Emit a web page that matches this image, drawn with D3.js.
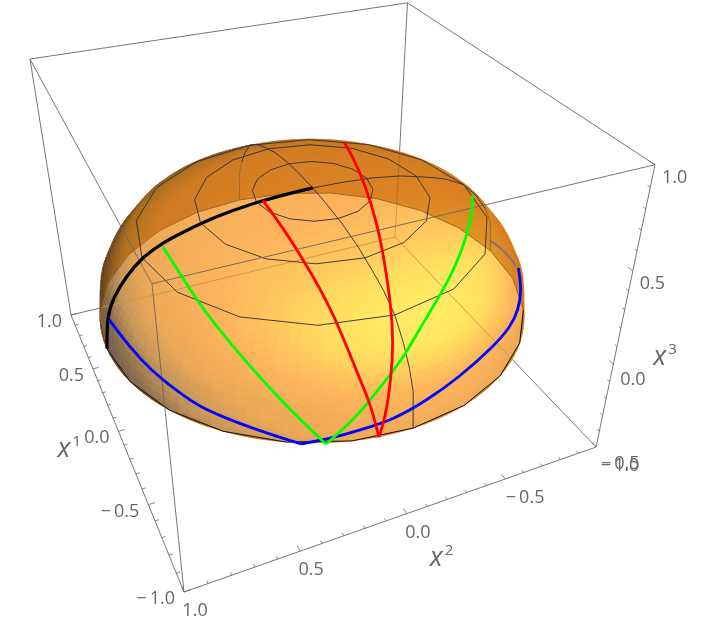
<!DOCTYPE html>
<html>
<head>
<meta charset="utf-8">
<style>
  html, body { margin: 0; background: #fff; }
  text { font-family: "Open Sans", sans-serif; fill: #666; }
</style>
<script src="https://cdn.jsdelivr.net/npm/d3@7"></script>
</head>
<body>
<svg id="chart" width="720" height="621"></svg>
<script>
// dome profile: height x3 at radius sqrt(x1^2 + x2^2)
const profileRadius = [0, 0.25, 0.5, 0.707, 0.83, 0.93, 0.98, 1];
const profileHeight = [0.6, 0.593, 0.555, 0.487, 0.42, 0.29, 0.18, 0];

// mesh lines on the dome
const ringRadii = [0.27, 0.53, 0.8];
const meridianAngles = [0, 180, 270];
const meridianRadii = [0, 0.15, 0.3, 0.45, 0.6, 0.7, 0.8, 0.88, 0.94, 0.98, 1];

// coloured curves, [x1, x2, x3]
const blueLeft = [
  [-0.03, 0.98, 0.18], [-0.25, 0.95, 0.18], [-0.39, 0.90, 0.14], [-0.53, 0.83, 0.11],
  [-0.62, 0.77, 0.08], [-0.73, 0.67, 0.06], [-0.82, 0.56, 0.03], [-0.90, 0.45, 0.00]
];
const blueRight = [
  [-0.90, 0.45, 0.00], [-0.94, 0.33, 0.02], [-0.97, 0.22, 0.05], [-0.99, 0.09, 0.07],
  [-0.98, -0.07, 0.11], [-0.95, -0.23, 0.15], [-0.87, -0.44, 0.18], [-0.79, -0.58, 0.19],
  [-0.70, -0.68, 0.19], [-0.59, -0.77, 0.20], [-0.48, -0.82, 0.24]
];
const blueHidden = [[-0.47, -0.65, 0.43], [-0.49, -0.73, 0.36], [-0.50, -0.79, 0.27]];
const greenLeft = [
  [-0.02, 0.71, 0.48], [-0.26, 0.70, 0.47], [-0.45, 0.68, 0.43], [-0.63, 0.62, 0.35],
  [-0.78, 0.54, 0.24], [-0.88, 0.45, 0.12], [-0.94, 0.36, 0.00]
];
const greenRight = [
  [-0.94, 0.36, 0.00], [-0.94, 0.33, 0.02], [-0.96, 0.22, 0.13], [-0.93, 0.07, 0.27],
  [-0.91, 0.01, 0.31], [-0.83, -0.13, 0.41], [-0.69, -0.32, 0.46], [-0.48, -0.52, 0.48],
  [-0.26, -0.69, 0.47], [-0.11, -0.78, 0.44]
];
const redLeft = [
  [0.00, 0.24, 0.59], [-0.22, 0.24, 0.58], [-0.43, 0.24, 0.55], [-0.71, 0.23, 0.47],
  [-0.92, 0.21, 0.27], [-0.96, 0.18, 0.17], [-0.99, 0.15, 0.00]
];
const redRight = [
  [-0.99, 0.15, 0.00], [-0.98, 0.12, 0.08], [-0.94, 0.08, 0.25], [-0.87, 0.04, 0.36],
  [-0.77, 0.00, 0.45], [-0.54, -0.08, 0.54], [-0.34, -0.15, 0.57], [-0.04, -0.24, 0.59],
  [0.25, -0.32, 0.57], [0.51, -0.40, 0.51]
];

// axes
const x1Major = [1, 0.5, 0, -0.5, -1];
const x2Major = [1, 0.5, 0, -0.5, -1];
const x3Major = [1, 0.5, 0, -0.5];
const minorStep = 0.1;

const svg = d3.select("#chart");

const height = d3.scaleLinear().domain(profileRadius).range(profileHeight).clamp(true);
const a = d3.scaleLinear().domain([1, -1]).range([0, 1]);
const b = d3.scaleLinear().domain([1, -1]).range([0, 1]);
const c = d3.scaleLinear().domain([-0.5, 1]).range([0, 1]);

// camera fitted to the eight box corners
function project(p) {
  const u = a(p[0]), v = b(p[1]), h = c(p[2]);
  const w = 1 - 0.2762 * u + 0.1283 * v - 0.146 * h;
  return [
    (71 + 62.2 * u + 374.7 * v - 45.4 * h) / w,
    (315 + 113.5 * u - 47.6 * v - 264.6 * h) / w
  ];
}

const domePoint = (r, deg) => {
  const t = deg * Math.PI / 180;
  return [r * Math.cos(t), r * Math.sin(t), height(r)];
};
const line = d3.line();
const smooth = d3.line().curve(d3.curveBasis);
const path3d = pts => line(pts.map(project));

// shading only: smooth normal of the dome, colour ramp against a highlight direction
const shade = d3.scaleLinear()
  .domain([-0.2, 0.1, 0.2, 0.4, 0.6, 0.82, 0.9, 0.96, 1])
  .range(["#6e5a48", "#7d6450", "#8d6f4e", "#c4965a", "#eca858", "#fdb45c", "#ffc85e", "#ffe060", "#ffec66"]);
const light = [-0.62, -0.1, 0.778];
function domeColor(r, deg) {
  const t = deg * Math.PI / 180;
  const z = Math.pow(Math.max(1 - Math.pow(r, 2.5), 1e-4), 0.4);
  const nr = Math.pow(r, 1.5), nz = Math.pow(z, 1.5) / 0.6;
  const len = Math.hypot(nr, nz);
  const dot = (nr * Math.cos(t) * light[0] + nr * Math.sin(t) * light[1] + nz * light[2]) / len;
  return shade(dot);
}

// surface grid
const radii = d3.range(0, 41).map(i => 1 - Math.pow(1 - i / 40, 2));
const thetas = d3.range(0, 360, 3);
const hull = d3.polygonHull(radii.flatMap(r => thetas.map(t => project(domePoint(r, t)))));
const hullPath = d3.line().curve(d3.curveLinearClosed)(hull);
const rimPolygon = d3.range(0, 360, 15).map(t => project(domePoint(1, t)));
const rimPath = d3.line().curve(d3.curveLinearClosed)(rimPolygon);

svg.append("clipPath").attr("id", "dome-clip").append("path").attr("d", hullPath);

const boxLine = (g, from, to) => g.append("path")
  .attr("d", path3d([from, to]))
  .attr("fill", "none")
  .attr("stroke", "#666")
  .attr("stroke-width", 0.9);

// back edges of the box
const backEdges = [
  [[1, -1, -0.5], [1, 1, -0.5]],
  [[1, -1, -0.5], [-1, -1, -0.5]],
  [[1, -1, -0.5], [1, -1, 1]]
];
const back = svg.append("g");
backEdges.forEach(e => boxLine(back, e[0], e[1]));

// dome, front sheet
const surface = svg.append("g");
surface.append("path").attr("d", hullPath).attr("fill", "#fdb25c");
d3.range(radii.length - 1).forEach(i => {
  thetas.forEach(t => {
    const t2 = t + 3;
    const q = [
      domePoint(radii[i], t), domePoint(radii[i + 1], t),
      domePoint(radii[i + 1], t2), domePoint(radii[i], t2)
    ].map(project);
    if (d3.polygonArea(q) <= 0) return;
    const col = domeColor((radii[i] + radii[i + 1]) / 2, t + 1.5);
    surface.append("path")
      .attr("d", d3.line().curve(d3.curveLinearClosed)(q))
      .attr("fill", col)
      .attr("stroke", col)
      .attr("stroke-width", 0.7);
  });
});

// back edges showing through the dome
const through = svg.append("g").attr("clip-path", "url(#dome-clip)");
backEdges.forEach(e => boxLine(through, e[0], e[1]).attr("stroke", "#c49a45"));

// far sheet of the dome doubles up above the back of the rim
svg.append("path")
  .attr("d", hullPath + rimPath)
  .attr("fill-rule", "evenodd")
  .attr("fill", "#deba60")
  .style("mix-blend-mode", "multiply");

// rim: far part seen through, near part as outline
const rimArc = (from, to) => d3.range(from, to + 1, 15).map(t => domePoint(1, t));
svg.append("path").attr("d", path3d(rimArc(240, 450)))
  .attr("fill", "none").attr("stroke", "#a0661f").attr("stroke-width", 1);
svg.append("path").attr("d", path3d(rimArc(90, 240)))
  .attr("fill", "none").attr("stroke", "#111").attr("stroke-width", 1);

// mesh, the far ends of the back meridians are seen through the dome
const mesh = svg.append("g").attr("fill", "none").attr("stroke", "#2b2b3b").attr("stroke-width", 0.9);
ringRadii.forEach(r => {
  mesh.append("path").attr("d", path3d(d3.range(0, 361, 22.5).map(t => domePoint(r, t))));
});
meridianAngles.forEach(t => {
  const farEnd = t !== 180;
  const near = meridianRadii.filter(r => !farEnd || r <= 0.94);
  mesh.append("path").attr("d", path3d(near.map(r => domePoint(r, t))));
  if (farEnd) {
    mesh.append("path")
      .attr("d", path3d(meridianRadii.filter(r => r >= 0.94).map(r => domePoint(r, t))))
      .attr("stroke", "#9a6a25");
  }
});

// remaining box edges
const frontBox = svg.append("g");
[
  [[1, 1, 1], [1, -1, 1]],
  [[1, -1, 1], [-1, -1, 1]],
  [[1, 1, 1], [-1, 1, 1]],
  [[-1, 1, 1], [-1, -1, 1]],
  [[1, 1, 1], [1, 1, -0.5]],
  [[-1, 1, 1], [-1, 1, -0.5]],
  [[-1, -1, 1], [-1, -1, -0.5]],
  [[1, 1, -0.5], [-1, 1, -0.5]],
  [[-1, 1, -0.5], [-1, -1, -0.5]]
].forEach(e => boxLine(frontBox, e[0], e[1]));

// curves
const drawCurve = (pts, color, w) => svg.append("path")
  .attr("d", smooth(pts.map(project)))
  .attr("fill", "none")
  .attr("stroke", color)
  .attr("stroke-width", w)
  .attr("stroke-linejoin", "round");

drawCurve(blueHidden, "#8d6a8a", 1.8);
drawCurve(meridianRadii.map(r => domePoint(r, 90)), "#000", 3.2);
[blueLeft, blueRight].forEach(s => drawCurve(s, "#0000ff", 2.8));
[greenLeft, greenRight].forEach(s => drawCurve(s, "#00ff00", 2.8));
[redLeft, redRight].forEach(s => drawCurve(s, "#ff0000", 2.8));

// ticks, pointing into the box
const axes = svg.append("g");
const ticksFor = (lo, hi) => d3.range(Math.round((hi - lo) / minorStep) + 1).map(i => lo + i * minorStep);
const isMajor = v => Math.abs(v * 2 - Math.round(v * 2)) < 1e-6;
const tick = (p, q) => axes.append("path").attr("d", path3d([p, q]))
  .attr("stroke", "#666").attr("stroke-width", 0.8);
ticksFor(-1, 1).forEach(v => {
  const l = isMajor(v) ? 0.03 : 0.016;
  tick([v, 1, -0.5], [v, 1 - l, -0.5]);
  tick([-1, v, -0.5], [-1 + l, v, -0.5]);
});
ticksFor(-0.5, 1).forEach(v => {
  const l = isMajor(v) ? 0.03 : 0.016;
  tick([-1, -1, v], [-1 + l, -1, v]);
});

// tick labels
const fmt = v => (v < 0 ? "\u2212\u2009" : "") + Math.abs(v).toFixed(1);
const label = (p, dx, dy, str, anchor) => {
  const s = project(p);
  axes.append("text")
    .attr("x", s[0] + dx).attr("y", s[1] + dy)
    .attr("text-anchor", anchor)
    .attr("font-size", 18)
    .text(str);
};
x1Major.forEach(v => label([v, 1, -0.5], -9, 12, fmt(v), "end"));
x2Major.forEach(v => label([-1, v, -0.5], v < 0 ? (v === -1 ? 24 : 20) : 11, 24, fmt(v), "middle"));
x3Major.forEach(v => label([-1, -1, v], v < 0 ? 5 : 7, v < 0 ? 22 : (v === 0 ? 21 : 18), fmt(v), "start"));

// axis titles
const axisTitle = (p, dx, dy, sup) => {
  const s = project(p);
  const t = axes.append("text")
    .attr("x", s[0] + dx).attr("y", s[1] + dy)
    .attr("font-size", 27);
  t.append("tspan").attr("font-style", "italic").text("x");
  t.append("tspan").attr("font-size", 15).attr("dx", 2).attr("dy", -11).text(sup);
};
axisTitle([0, 1, -0.5], -61, 26, "1");
axisTitle([-1, 0, -0.5], 23, 52, "2");
axisTitle([-1, -1, 0], 40, 1, "3");
</script>
</body>
</html>
